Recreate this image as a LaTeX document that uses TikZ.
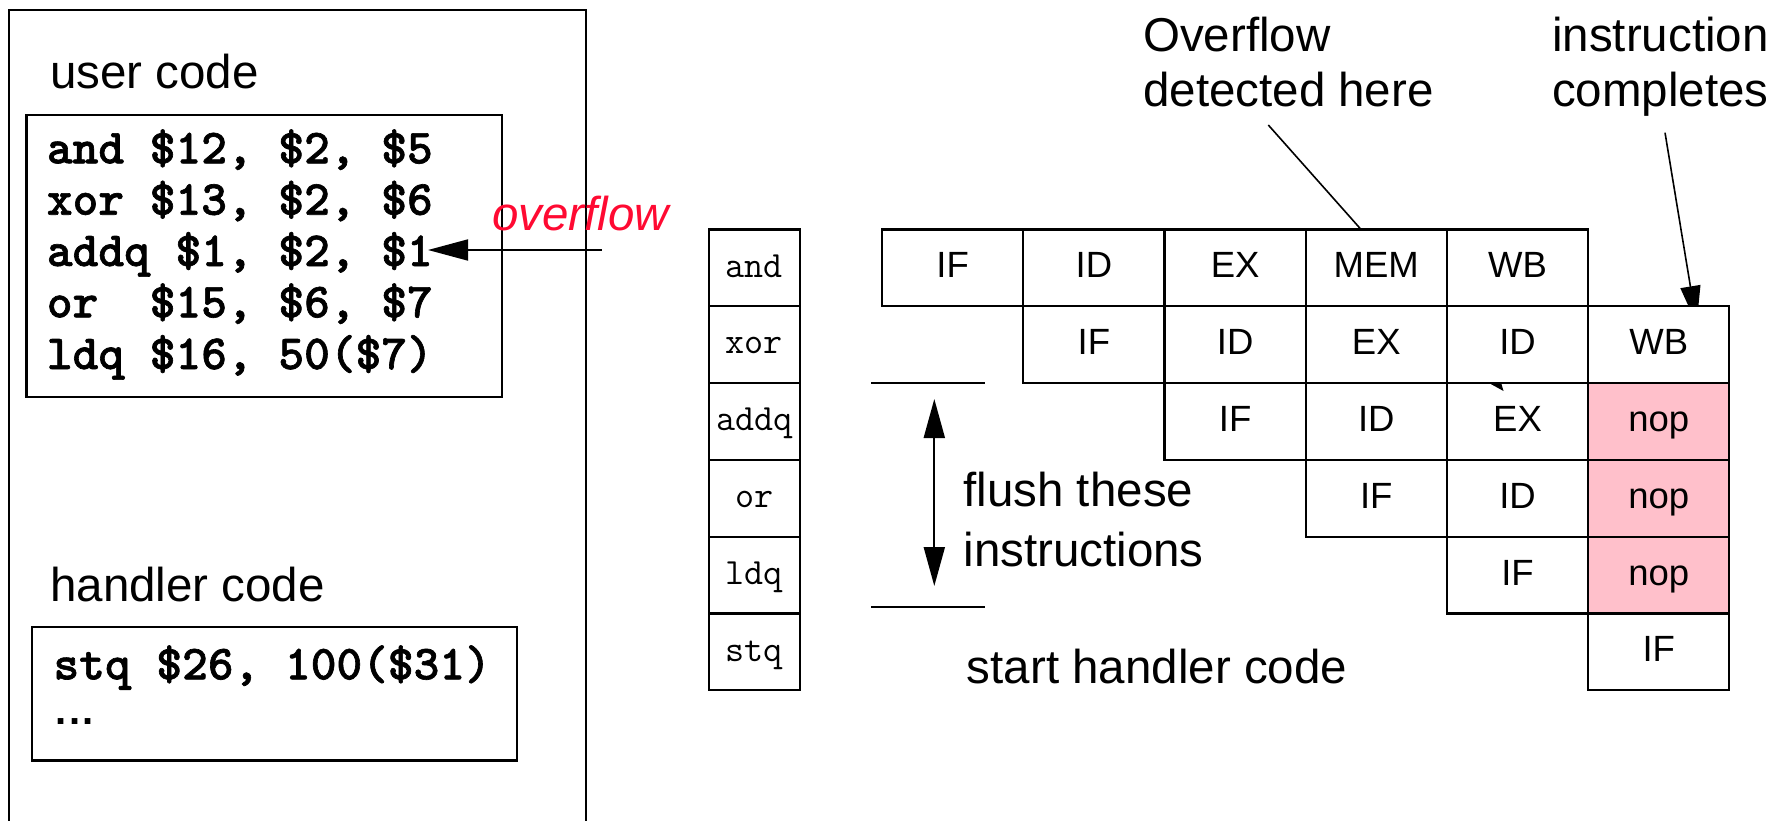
\documentclass[tikz,border=0pt]{standalone}
\usepackage{fontspec}
\setmainfont{Liberation Sans}
\newfontfamily\codefont{lmmonolt10-bold.otf}[FakeBold=1.3]
\usetikzlibrary{arrows.meta}
\definecolor{alarm}{RGB}{255,10,50}
\definecolor{nopfill}{RGB}{255,192,203}
\newcommand\fsz[1]{\fontsize{#1}{#1}\selectfont}

\begin{document}
\begin{tikzpicture}[x=1pt,y=-1pt,
  frame/.style={draw,line width=2.2pt},
  boxnode/.style={frame,inner sep=0pt,anchor=north west},
  lbl/.style={inner sep=0pt,anchor=base west,font=\fsz{47.5}},
  code/.style={inner sep=0pt,anchor=base west,font=\fsz{49}\codefont},
  stage/.style={draw,line width=2.2pt,minimum width=141.2pt,minimum height=76.8pt,
    inner sep=0pt,anchor=north west,font=\fsz{36.5},text height=20pt,text depth=0pt},
  instr/.style={draw,line width=2.2pt,minimum width=91.7pt,minimum height=76.8pt,
    inner sep=0pt,anchor=north west,font=\fsz{37}\ttfamily,text height=18.5pt,text depth=0pt},
  thinline/.style={line width=1.6pt},
  bigtip/.style={-{Triangle[length=38pt,width=20pt]}}
]
\useasboundingbox (0,0) rectangle (1787,821);

% ---------- program memory ----------
\draw[frame] (9,821) -- (9,10) -- (586,10) -- (586,821);
\node[lbl] (usertitle) at (50,88.5) {user code};
\node[boxnode,minimum width=475.4pt,minimum height=282pt] (userbox) at (25.3,114) {};
\node[code] (u1) at (46.7,163.3) {and \$12, \$2, \$5};
\node[code] (u2) at (46.7,214.7) {xor \$13, \$2, \$6};
\node[code] (u3) at (46.7,266)   {addq \$1, \$2, \$1};
\node[code] (u4) at (46.7,317.3) {or~~\$15, \$6, \$7};
\node[code] (u5) at (46.7,369)   {ldq \$16, 50(\$7)};

\node[lbl] (handlertitle) at (50,601) {handler code};
\node[boxnode,minimum width=485.3pt,minimum height=133.3pt] (handlerbox) at (30.7,626) {};
\node[code,text depth=0pt] (h1) at (53.3,679.3) {stq \$26, 100(\$31)};
\node[lbl,font=\fsz{40}\bfseries,text height=8pt,text depth=0pt] (h2) at (55.5,724)
  {.\kern2.4pt.\kern2.4pt.};

% overflow arrow into the faulting instruction
\coordinate (ovtail) at (601.7,250);
\coordinate (ovtip) at (428,250);
\draw[line width=1.8pt,-{Triangle[length=40pt,width=21pt]}] (ovtail) -- (ovtip);
\node[lbl,font=\fsz{47.5}\itshape,text=alarm] (ovlabel) at (492,230) {overflow};

% ---------- instruction column ----------
\foreach \t [count=\k from 0] in {and,xor,addq,or,ldq,stq}
  \node[instr] (n\k) at (707.5,{228.3+76.8*\k}) {\t};

% ---------- annotation arrow partly hidden by the WB cell ----------
\coordinate (cmptail) at (1665,132.7);
\coordinate (cmptip) at (1696.6,324);
\draw[thinline,bigtip] (cmptail) -- (cmptip);

% ---------- pipeline stages ----------
\foreach \r/\c/\t/\f in {
  0/0/IF/white,0/1/ID/white,0/2/EX/white,0/3/MEM/white,0/4/WB/white,
  1/1/IF/white,1/2/ID/white,1/3/EX/white,1/4/ID/white,1/5/WB/white,
  2/2/IF/white,2/3/ID/white,2/4/EX/white,2/5/nop/nopfill,
  3/3/IF/white,3/4/ID/white,3/5/nop/nopfill,
  4/4/IF/white,4/5/nop/nopfill,
  5/5/IF/white}
  \node[stage,fill=\f] (m\r\c) at ({881+141.2*\c},{228.3+76.8*\r}) {\t};

\fill (1488,382.5) -- (1501,382.5) -- (1503.5,391) -- cycle;

% ---------- flush bracket ----------
\coordinate (brtopl) at (871,382.7);  \coordinate (brtopr) at (985.3,382.7);
\coordinate (brbotl) at (871,606.7);  \coordinate (brbotr) at (985.3,606.7);
\draw[thinline] (brtopl) -- (brtopr);
\draw[thinline] (brbotl) -- (brbotr);
\coordinate (flushtop) at (934.3,399);
\coordinate (flushbot) at (934.3,586);
\draw[line width=2pt,{Triangle[length=39pt,width=21pt]}-{Triangle[length=39pt,width=21pt]}]
  (flushtop) -- (flushbot);
\node[lbl] (flush1) at (963.3,506.7) {flush these};
\node[lbl] (flush2) at (963.3,566) {instructions};
\node[lbl] (starth) at (966.7,683.3) {start handler code};

% ---------- callouts ----------
\node[lbl] (ovf1) at (1143,52) {Overflow};
\node[lbl] (ovf2) at (1143,107) {detected here};
\node[lbl] (cmp1) at (1552,52) {instruction};
\node[lbl] (cmp2) at (1552,107) {completes};
\coordinate (ovfline) at (1268.3,125);
\coordinate (memtop) at (1360,228.3);
\draw[thinline] (ovfline) -- (memtop);
\end{tikzpicture}
\end{document}
